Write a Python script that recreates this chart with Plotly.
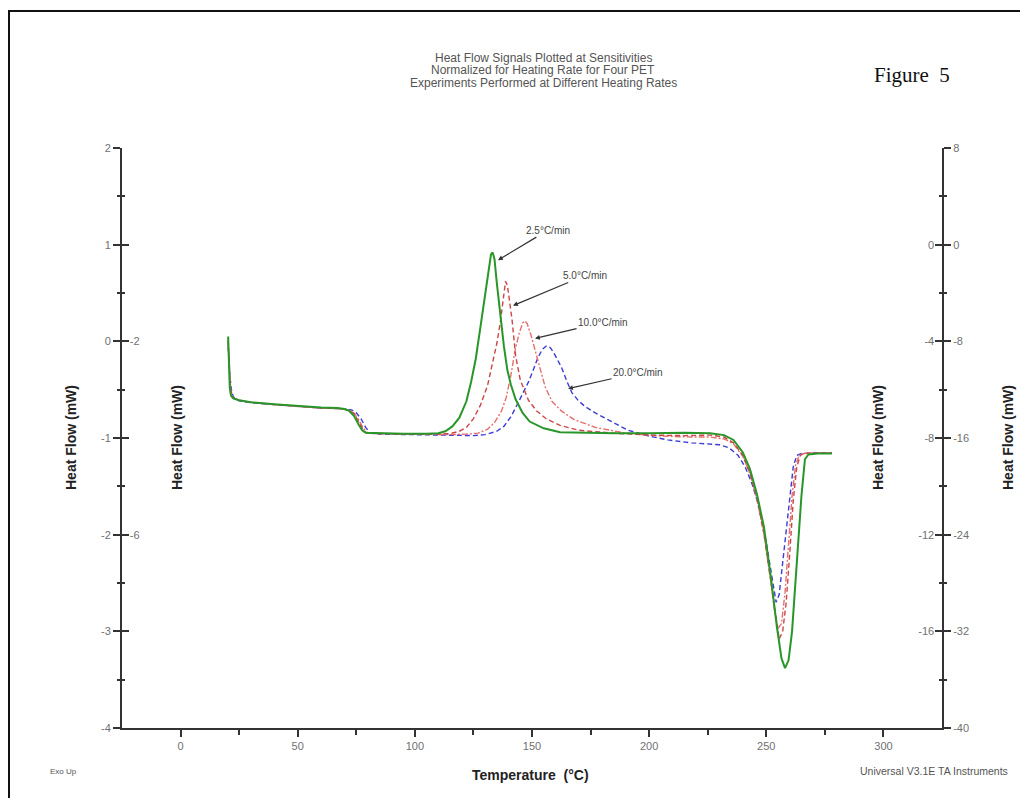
import plotly.graph_objects as go

# ---------------- data ----------------
series_names = ["2.5°C/min", "5.0°C/min", "10.0°C/min", "20.0°C/min"]

t_25 = [20.3, 20.6, 21.0, 21.5, 22.5, 25, 30, 40, 50, 60, 67, 70, 72, 74, 76, 77.5, 79, 85, 95, 105,
        110, 113, 116, 119, 122, 124, 126, 128, 130, 131.5, 132.5, 133.2, 134, 135, 136.5, 138, 139.5,
        141, 143, 146, 149, 155, 162, 170, 185, 200, 215, 226, 232, 236, 240, 243, 246, 249, 252,
        254.5, 256.5, 258, 259.5, 261, 262.5, 263.7, 265, 266.5, 268, 272, 278]
hf_25 = [0.05, -0.25, -0.48, -0.56, -0.59, -0.61, -0.63, -0.65, -0.67, -0.685, -0.69, -0.70, -0.72,
         -0.77, -0.86, -0.92, -0.945, -0.95, -0.955, -0.955, -0.95, -0.93, -0.88, -0.79, -0.62, -0.42,
         -0.18, 0.15, 0.50, 0.78, 0.90, 0.92, 0.85, 0.60, 0.25, -0.05, -0.30, -0.45, -0.60, -0.74,
         -0.83, -0.90, -0.94, -0.945, -0.95, -0.95, -0.945, -0.95, -0.97, -1.02, -1.15, -1.32, -1.58,
         -1.92, -2.45, -2.95, -3.28, -3.38, -3.30, -3.0, -2.5, -2.0, -1.6, -1.22, -1.17, -1.16, -1.16]

t_50 = [20.3, 20.7, 21.2, 22, 23, 25, 30, 40, 50, 60, 67, 70, 72, 74, 76, 78, 79.5, 85, 95, 105,
        115, 119, 122, 125, 128, 131, 133, 135, 136.5, 137.8, 138.7, 139.5, 140.5, 141.5, 143, 145,
        148.5, 152, 156, 162, 170, 185, 200, 215, 226, 232, 236, 240, 243, 246, 249, 252, 254, 255.5,
        257, 258.5, 260, 261.5, 263, 264.5, 266, 270, 278]
hf_50 = [0.0, -0.28, -0.48, -0.56, -0.59, -0.61, -0.63, -0.655, -0.675, -0.69, -0.695, -0.70, -0.715,
         -0.75, -0.83, -0.92, -0.95, -0.955, -0.96, -0.96, -0.955, -0.93, -0.89, -0.80, -0.66, -0.46,
         -0.25, -0.02, 0.20, 0.48, 0.62, 0.58, 0.42, 0.22, -0.15, -0.40, -0.61, -0.72, -0.80, -0.87,
         -0.92, -0.95, -0.97, -0.975, -0.97, -0.99, -1.05, -1.18, -1.36, -1.62, -1.98, -2.5, -2.85,
         -3.08, -3.0, -2.7, -2.2, -1.65, -1.3, -1.18, -1.16, -1.155, -1.155]

t_100 = [20.3, 20.8, 21.4, 22, 23, 25, 30, 40, 50, 60, 67, 70, 72, 74, 76, 78, 80, 85, 95, 105,
         115, 122, 127, 131, 134, 137, 139, 141, 142.8, 144.5, 146, 147, 148, 149.5, 151.3, 153.5,
         155.6, 158.5, 162.5, 168, 177, 190, 205, 218, 226, 232, 236, 240, 243, 246, 249, 252, 253.5,
         255, 256.5, 258, 259.5, 261, 262.5, 264, 266, 270, 278]
hf_100 = [0.02, -0.3, -0.5, -0.56, -0.59, -0.61, -0.63, -0.655, -0.675, -0.69, -0.695, -0.70, -0.71,
          -0.74, -0.81, -0.90, -0.95, -0.955, -0.96, -0.965, -0.965, -0.96, -0.95, -0.91, -0.84, -0.72,
          -0.58, -0.35, -0.09, 0.08, 0.19, 0.21, 0.18, 0.07, -0.09, -0.30, -0.47, -0.62, -0.72, -0.81,
          -0.89, -0.95, -0.98, -0.99, -0.99, -1.01, -1.06, -1.19, -1.37, -1.63, -2.0, -2.5, -2.78,
          -2.97, -2.92, -2.6, -2.1, -1.6, -1.28, -1.18, -1.16, -1.155, -1.155]

t_200 = [20.3, 21, 21.8, 22.5, 23.5, 25, 30, 40, 50, 60, 67, 70, 73, 75, 77, 79, 81, 85, 95, 105,
         115, 125, 130, 135, 138, 141, 144, 146.5, 148.5, 150.5, 152.5, 154.5, 156, 157, 158, 160,
         162.6, 165, 167, 170, 173, 177, 183, 191, 200, 208, 218, 226, 230, 234, 238, 241, 244, 247,
         250, 252.5, 254.2, 255.5, 257, 258.5, 260, 261.5, 263, 265, 270, 278]
hf_200 = [-0.05, -0.35, -0.52, -0.57, -0.60, -0.615, -0.635, -0.655, -0.675, -0.69, -0.695, -0.70,
          -0.71, -0.74, -0.80, -0.89, -0.95, -0.96, -0.965, -0.97, -0.975, -0.975, -0.965, -0.93,
          -0.88, -0.78, -0.64, -0.52, -0.42, -0.30, -0.17, -0.08, -0.05, -0.05, -0.07, -0.15, -0.27,
          -0.42, -0.53, -0.62, -0.68, -0.74, -0.82, -0.92, -0.98, -1.02, -1.05, -1.06, -1.07, -1.10,
          -1.18, -1.30, -1.48, -1.72, -2.08, -2.45, -2.70, -2.62, -2.3, -1.95, -1.6, -1.3, -1.18,
          -1.16, -1.155, -1.155]

# arrow targets for the rate labels (temperature, heat flow)
label_t = [135.5, 141.9, 151.3, 165.4]
label_hf = [0.84, 0.37, 0.03, -0.49]

# tick labels
x_ticks = [0, 50, 100, 150, 200, 250, 300]
x_minor = [-25, 25, 75, 125, 175, 225, 275, 325]
y_major = [2, 1, 0, -1, -2, -3, -4]
left_outer_text = ["2", "1", "0", "-1", "-2", "-3", "-4"]
left_inner_text = ["", "", "-2", "", "-6", "", ""]
right_inner_text = ["", "0", "-4", "-8", "-12", "-16", ""]
right_outer_text = ["8", "0", "-8", "-16", "-24", "-32", "-40"]
y_minor = [1.5, 0.5, -0.5, -1.5, -2.5, -3.5]

title_lines = ["Heat Flow Signals Plotted at Sensitivities",
               "Normalized for Heating Rate for Four PET",
               "Experiments Performed at Different Heating Rates"]

# ---------------- figure ----------------
OFF = 8                      # page body margin
W, H = 1028 - OFF, 798 - OFF
# plot area in page pixels
L, R, T, B = 122, 942, 148, 728


def fx(px):
    return (px - L) / (R - L)


def fy(py):
    return (B - py) / (B - T)


FONT = "Liberation Sans, Arial, sans-serif"
AX = "#333333"
TICKC = "#707070"

fig = go.Figure()

styles = [
    dict(color="rgb(40,150,40)", width=2, dash="solid"),
    dict(color="rgb(205,70,70)", width=1.4, dash="5px,3px"),
    dict(color="rgb(230,110,110)", width=1.4, dash="6px,2px,2px,2px"),
    dict(color="rgb(60,60,215)", width=1.4, dash="5px,3px"),
]
xs = [t_25, t_50, t_100, t_200]
ys = [hf_25, hf_50, hf_100, hf_200]
order = [3, 2, 1, 0]
for i in order:
    fig.add_trace(go.Scatter(x=xs[i], y=ys[i], mode="lines", line=styles[i],
                             name=series_names[i], showlegend=False))

# dummy traces so the extra axes render
for ya in ["y2", "y3", "y4"]:
    fig.add_trace(go.Scatter(x=[None], y=[None], yaxis=ya, showlegend=False, hoverinfo="skip"))

common_y = dict(range=[-4, 2], showgrid=False, zeroline=False, showline=True, linecolor=AX,
                linewidth=2, tickvals=y_major, tickwidth=1.5, tickcolor=AX, ticklen=7,
                tickfont=dict(family=FONT, size=11, color=TICKC), fixedrange=True)

fig.update_layout(
    width=W, height=H, autosize=False,
    margin=dict(l=L - OFF, r=1028 - R, t=T - OFF, b=798 - B),
    paper_bgcolor="white", plot_bgcolor="white",
    xaxis=dict(range=[-25, 325], showgrid=False, zeroline=False, showline=True, linecolor=AX,
               linewidth=2, tickvals=x_ticks, ticks="outside", ticklen=7, tickwidth=1.5,
               tickcolor=AX, tickfont=dict(family=FONT, size=11, color=TICKC),
               minor=dict(tickvals=x_minor, ticks="outside", ticklen=5, tickwidth=1.5,
                          tickcolor=AX)),
    yaxis=dict(**common_y, ticks="outside", ticktext=left_outer_text,
               minor=dict(tickvals=y_minor, ticks="outside", ticklen=3, tickwidth=1.5, tickcolor=AX)),
    yaxis2=dict(**common_y, overlaying="y", side="left", anchor="x", ticks="inside",
                ticklabelposition="inside", ticktext=left_inner_text,
                minor=dict(tickvals=y_minor, ticks="inside", ticklen=3, tickwidth=1.5, tickcolor=AX)),
    yaxis3=dict(**common_y, overlaying="y", side="right", anchor="x", ticks="inside",
                ticklabelposition="inside", ticktext=right_inner_text,
                minor=dict(tickvals=y_minor, ticks="inside", ticklen=3, tickwidth=1.5, tickcolor=AX)),
    yaxis4=dict(**common_y, overlaying="y", side="right", anchor="x", ticks="outside",
                ticktext=right_outer_text,
                minor=dict(tickvals=y_minor, ticks="outside", ticklen=3, tickwidth=1.5, tickcolor=AX)),
)

ann = []
# rate labels with arrows
offsets = [(50, -30), (72, -30), (68, -16), (70, -16)]
for name, t, h, (ax, ay) in zip(series_names, label_t, label_hf, offsets):
    ann.append(dict(x=t, y=h, xref="x", yref="y", text=name, showarrow=True, ax=ax, ay=ay,
                    arrowhead=2, arrowsize=0.8, arrowwidth=1.2, arrowcolor="#333",
                    font=dict(family=FONT, size=10, color="#444")))

# y axis titles
for px in [71, 177, 878, 1008]:
    ann.append(dict(x=fx(px), y=0.5, xref="paper", yref="paper", text="<b>Heat Flow (mW)</b>",
                    textangle=-90, showarrow=False, xanchor="center", yanchor="middle",
                    font=dict(family=FONT, size=14, color="#222")))

# chart title lines
for line, py in zip(title_lines, [58, 70, 83]):
    ann.append(dict(x=fx(543), y=fy(py), xref="paper", yref="paper", text=line, showarrow=False,
                    xanchor="center", yanchor="middle",
                    font=dict(family=FONT, size=12, color="#555")))

ann.append(dict(x=fx(912), y=fy(75), xref="paper", yref="paper", text="Figure  5", showarrow=False,
                xanchor="center", yanchor="middle",
                font=dict(family="Liberation Serif, Times New Roman, serif", size=21, color="#111")))
ann.append(dict(x=fx(530), y=fy(775), xref="paper", yref="paper", text="<b>Temperature\u00a0 (°C)</b>",
                showarrow=False, xanchor="center", yanchor="middle",
                font=dict(family=FONT, size=14, color="#222")))
ann.append(dict(x=fx(48), y=fy(771), xref="paper", yref="paper", text="Exo Up", showarrow=False,
                xanchor="left", yanchor="middle", font=dict(family=FONT, size=8, color="#555")))
ann.append(dict(x=fx(858), y=fy(771), xref="paper", yref="paper", text="Universal V3.1E TA Instruments",
                showarrow=False, xanchor="left", yanchor="middle",
                font=dict(family=FONT, size=10.5, color="#555")))

fig.update_layout(annotations=ann)

# outer frame
fig.add_shape(type="rect", xref="paper", yref="paper", x0=fx(9), x1=fx(1060), y0=fy(830), y1=fy(11),
              line=dict(color="#111", width=2), fillcolor="rgba(0,0,0,0)", layer="above")

fig.write_html("out.html")
